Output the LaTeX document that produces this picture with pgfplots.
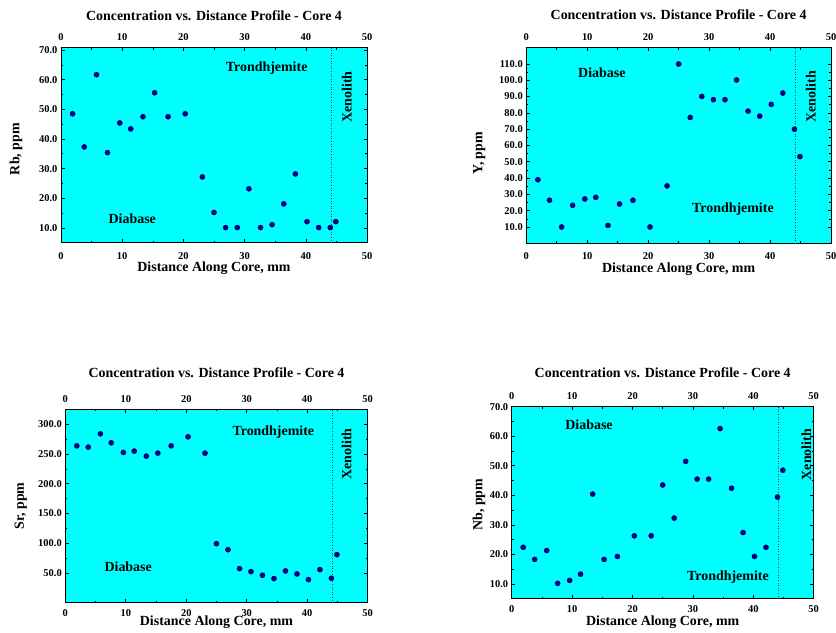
\documentclass[border=0pt]{standalone}
\usepackage{fontspec}
\setmainfont{Liberation Serif}
\usepackage{pgfplots}
\pgfplotsset{compat=1.18}
\definecolor{markblue}{RGB}{0,0,128}
\definecolor{bgcyan}{RGB}{0,255,255}

\tikzset{annot/.style={font=\bfseries\fontsize{14}{16}\selectfont, anchor=center}}
\pgfplotsset{
  corebase/.style={
    scale only axis, anchor=south west,
    xmin=0, xmax=50, xtick={0,10,...,50},
    minor x tick num=1, minor y tick num=1,
    tick align=inside, tick pos=both,
    axis line style={line width=0.8bp},
    major tick length=3.5bp, minor tick length=2bp,
    every tick/.style={black, line width=0.6bp},
    tick label style={font=\bfseries\fontsize{10.5}{12}\selectfont},
    /pgf/number format/assume math mode=true,
    label style={font=\bfseries\fontsize{14}{16}\selectfont},
    title style={font=\bfseries\fontsize{14}{16}\selectfont, anchor=center},
    axis background/.style={fill=bgcyan},
    yticklabel style={/pgf/number format/.cd, fixed, fixed zerofill, precision=1},
    xlabel={Distance Along Core, mm},
    title={Concentration vs. Distance Profile - Core 4},
    xlabel style={anchor=center},
    ylabel style={anchor=center},
  },
  topax/.style={
    scale only axis, anchor=south west,
    xmin=0, xmax=50, xtick={0,10,...,50},
    xticklabel pos=right, ytick=\empty,
    axis line style={draw=none},
    major tick length=0pt,
    tick label style={font=\bfseries\fontsize{10.5}{12}\selectfont},
    /pgf/number format/assume math mode=true,
  },
  pts/.style={only marks, mark=*, mark size=2.6bp, color=markblue},
  xenoline/.style={black!75, dotted, line width=0.6bp, forget plot},
}

\pgfplotstableread{
x    rb    yy     sr     nb
1.9  48.5  39.0  263.6  22.4
3.8  37.3  26.4  261.4  18.3
5.8  61.7  10.0  283.8  21.3
7.6  35.4  23.3  268.7  10.2
9.6  45.4  27.2  252.5  11.2
11.4 43.4  28.2  254.7  13.3
13.4 47.5  11.0  246.3  40.4
15.3 55.6  24.1  251.3  18.3
17.5 47.5  26.4  263.6  19.3
20.3 48.5  10.0  278.7  26.3
23.1 27.2  35.2  251.3  26.3
25.0 15.2 110.0   99.2  43.5
26.9 10.1  77.2   89.1  32.3
28.8 10.1  90.1   57.3  51.5
30.7 23.2  88.1   52.2  45.5
32.6 10.1  88.1   46.1  45.5
34.5 11.1 100.2   40.5  62.6
36.4 18.1  81.1   53.4  42.4
38.3 28.2  78.0   48.3  27.4
40.2 12.1  85.2   38.8  19.3
42.1 10.1  92.2   55.6  22.4
44.0 10.1  70.0   41.0  39.4
44.9 12.1  53.2   80.8  48.5
}\coredata

\begin{document}
\begin{tikzpicture}
\useasboundingbox (0,0) rectangle (836bp,633bp);

% ---------- Panel 1: Rb ----------
\begin{axis}[corebase, at={(61bp,390.3bp)}, width=306bp, height=195bp,
  ymin=5, ymax=70.8, ytick={10,20,...,70},
  xticklabel shift=6bp,
  ylabel={Rb, ppm},
  ylabel style={at={(axis description cs:-0.147,0.48)}},
  xlabel style={at={(axis description cs:0.5,-0.132)}},
  title style={at={(axis description cs:0.5,1.136)}},
  clip=false]
\addplot[pts] table[x=x,y=rb] {\coredata};
\addplot[xenoline] coordinates {(44.1,5) (44.1,70.8)};
\node[annot] at (axis cs:33.6,63.8) {Trondhjemite};
\node[annot] at (axis cs:11.65,13.1) {Diabase};
\node[annot, rotate=90] at (axis cs:46.7,54.2) {Xenolith};
\end{axis}
\begin{axis}[topax, at={(61bp,390.3bp)}, width=306bp, height=195bp,
  ymin=5, ymax=70.8, xticklabel shift=3.5bp]
\end{axis}

% ---------- Panel 2: Y ----------
\begin{axis}[corebase, at={(526.3bp,389.7bp)}, width=304.7bp, height=195.6bp,
  ymin=0, ymax=120, ytick={10,20,...,110},
  xticklabel shift=6bp,
  ylabel={Y, ppm},
  ylabel style={at={(axis description cs:-0.154,0.46)}},
  xlabel style={at={(axis description cs:0.5,-0.130)}},
  title style={at={(axis description cs:0.5,1.136)}},
  clip=false]
\addplot[pts] table[x=x,y=yy] {\coredata};
\addplot[xenoline] coordinates {(44.1,0) (44.1,120)};
\node[annot] at (axis cs:12.4,104.7) {Diabase};
\node[annot] at (axis cs:33.9,20.7) {Trondhjemite};
\node[annot, rotate=90] at (axis cs:46.7,89.9) {Xenolith};
\end{axis}
\begin{axis}[topax, at={(526.3bp,389.7bp)}, width=304.7bp, height=195.6bp,
  ymin=0, ymax=120, xticklabel shift=3.5bp]
\end{axis}

% ---------- Panel 3: Sr ----------
\begin{axis}[corebase, at={(65.3bp,30.3bp)}, width=302.4bp, height=193.4bp,
  ymin=0, ymax=325, ytick={50,100,...,300},
  xticklabel shift=3bp,
  ylabel={Sr, ppm},
  ylabel style={at={(axis description cs:-0.147,0.5)}},
  xlabel style={at={(axis description cs:0.5,-0.103)}},
  title style={at={(axis description cs:0.5,1.158)}},
  clip=false]
\addplot[pts] table[x=x,y=sr] {\coredata};
\addplot[xenoline] coordinates {(44.1,0) (44.1,325)};
\node[annot] at (axis cs:34.4,286.6) {Trondhjemite};
\node[annot] at (axis cs:10.4,60) {Diabase};
\node[annot, rotate=90] at (axis cs:46.5,250) {Xenolith};
\end{axis}
\begin{axis}[topax, at={(65.3bp,30.3bp)}, width=302.4bp, height=193.4bp,
  ymin=0, ymax=325, xticklabel shift=3.5bp]
\end{axis}

% ---------- Panel 4: Nb ----------
\begin{axis}[corebase, at={(511.7bp,34.3bp)}, width=302bp, height=192bp,
  ymin=5, ymax=70, ytick={10,20,...,70},
  xticklabel shift=3bp,
  ylabel={Nb, ppm},
  ylabel style={at={(axis description cs:-0.108,0.49)}},
  xlabel style={at={(axis description cs:0.5,-0.12)}},
  title style={at={(axis description cs:0.5,1.146)}},
  clip=false]
\addplot[pts] table[x=x,y=nb] {\coredata};
\addplot[xenoline] coordinates {(44.1,5) (44.1,70)};
\node[annot] at (axis cs:12.8,63.8) {Diabase};
\node[annot] at (axis cs:35.8,12.2) {Trondhjemite};
\node[annot, rotate=90] at (axis cs:48.8,53.8) {Xenolith};
\end{axis}
\begin{axis}[topax, at={(511.7bp,34.3bp)}, width=302bp, height=192bp,
  ymin=5, ymax=70, xticklabel shift=3.5bp]
\end{axis}

\end{tikzpicture}
\end{document}
